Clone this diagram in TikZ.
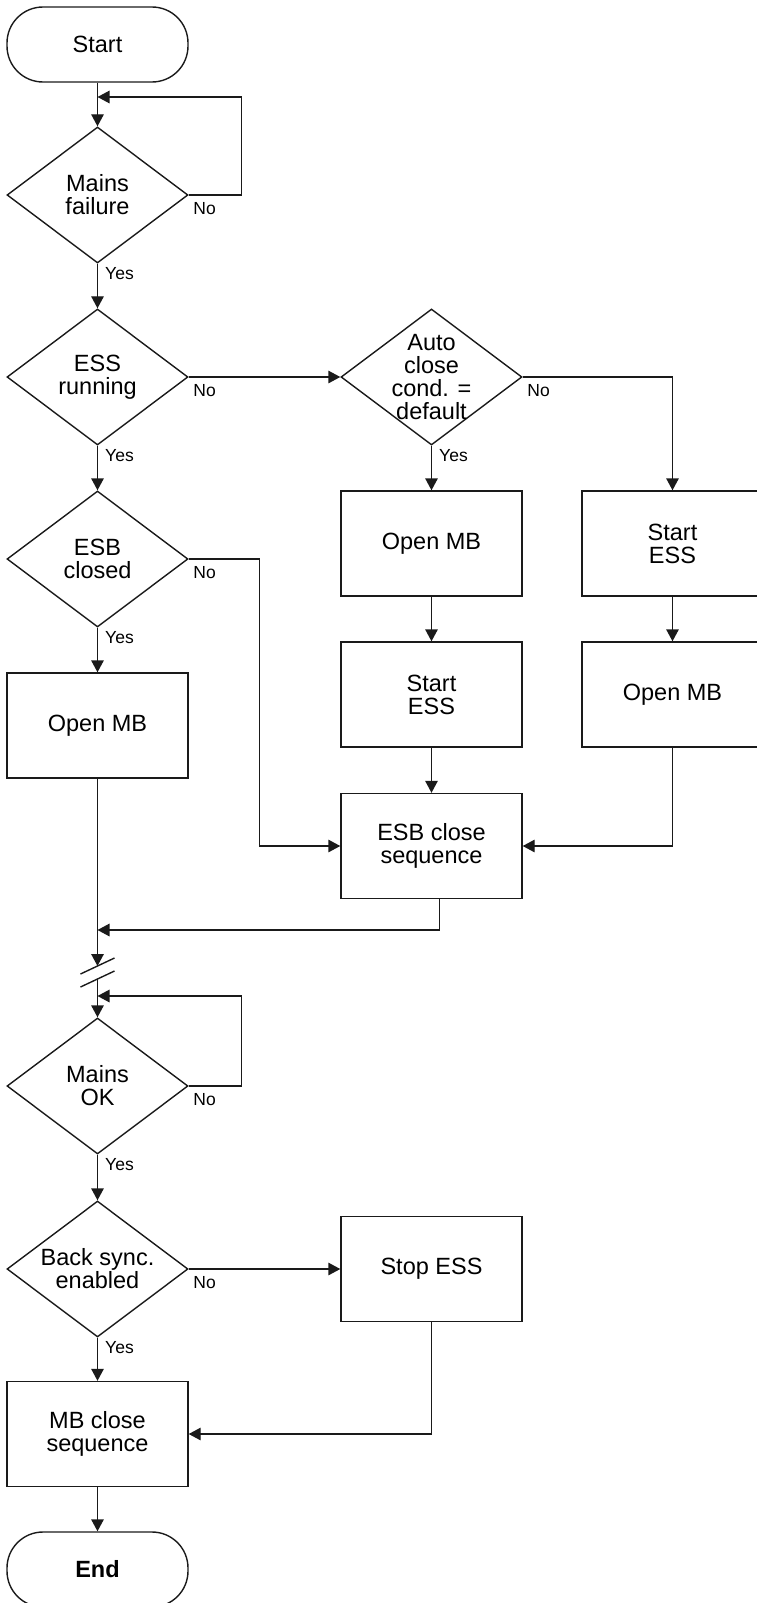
\documentclass[tikz,border=0pt]{standalone}
\usepackage{fontspec}
\setmainfont{Liberation Sans}
\usepackage{tikz}
\usetikzlibrary{positioning,arrows.meta,calc,shapes.geometric}
\usepackage{xcolor}
\definecolor{linedark}{HTML}{1A1A1A}

\begin{document}
\begin{tikzpicture}[x=1pt, y=-1pt, >={Triangle[length=12pt,width=12.5pt]},
    line width=1.4pt, draw=linedark,
    every node/.style={font=\fontsize{23.5}{23}\selectfont, text=black},
    terminal/.style={draw, rounded corners=36pt, minimum width=181pt, minimum height=75pt, inner sep=0pt},
    decision/.style={draw, diamond, aspect=1.33, minimum width=181pt, minimum height=136pt, inner xsep=0pt, inner ysep=-20pt, align=center},
    process/.style={draw, minimum width=181pt, minimum height=105pt, inner sep=0pt, align=center},
    answer/.style={font=\fontsize{17.5}{18}\selectfont, inner sep=0pt}]
  \useasboundingbox (0,0) rectangle (756,1603);
  % nodes, main column
  \node[terminal] (start) at (97.5,44.5) {Start};
  \node[decision] (mf) at (97.5,195) {Mains\\failure};
  \node[decision] (essr) at (97.5,377) {ESS\\running};
  \node[decision] (esbc) at (97.5,559) {ESB\\closed};
  \node[process] (omb1) at (97.5,725.5) {Open MB};
  \node[decision] (mok) at (97.5,1086) {Mains\\OK};
  \node[decision] (bse) at (97.5,1269) {Back sync.\\enabled};
  \node[process] (mbc) at (97.5,1434) {MB close\\sequence};
  \node[terminal] (end) at (97.5,1569.5) {\bfseries End};
  % nodes, middle and right columns
  \node[decision] (acd) at (431.5,377) {Auto\\close\\cond. =\\default};
  \node[process] (omb2) at (431.5,543.5) {Open MB};
  \node[process] (sess1) at (431.5,694.5) {Start\\ESS};
  \node[process] (seq) at (431.5,846) {ESB close\\sequence};
  \node[process] (stop) at (431.5,1269) {Stop ESS};
  \node[process] (sess2) at (672.5,543.5) {Start\\ESS};
  \node[process] (omb3) at (672.5,694.5) {Open MB};
  % helper points
  \coordinate (mfin) at (97.5,97);
  \coordinate (merge) at (97.5,930);
  \coordinate (brkA) at (97.5,966);
  \coordinate (brkB) at (97.5,979);
  \coordinate (mokin) at (97.5,996);
  % connectors
  \draw[->] (start) -- (mf);
  \draw[->] (mf.east) -- ++(53,0) |- (mfin);
  \draw[->] (mf) -- (essr);
  \draw[->] (essr) -- (acd);
  \draw[->] (acd.east) -| (sess2);
  \draw[->] (acd) -- (omb2);
  \draw[->] (omb2) -- (sess1);
  \draw[->] (sess1) -- (seq);
  \draw[->] (sess2) -- (omb3);
  \draw[->] (omb3.south) |- (seq.east);
  \draw[->] (essr) -- (esbc);
  \draw[->] (esbc.east) -- ++(71,0) |- (seq.west);
  \draw[->] (esbc) -- (omb1);
  \draw[->] ($(seq.south)+(8,0)$) |- (merge);
  \draw[->] (omb1.south) -- (brkA);
  % break mark
  \draw ($(brkA)+(-17,8)$) -- ($(brkA)+(17,-8)$);
  \draw ($(brkB)+(-17,8)$) -- ($(brkB)+(17,-8)$);
  \draw[->] (brkB) -- (mok);
  \draw[->] (mok.east) -- ++(53,0) |- (mokin);
  \draw[->] (mok) -- (bse);
  \draw[->] (bse) -- (stop);
  \draw[->] (bse) -- (mbc);
  \draw[->] (stop.south) |- (mbc.east);
  \draw[->] (mbc) -- (end);
  % answers
  \node[answer, below right=7pt and 4pt of mf.east] (mfno) {No};
  \node[answer, below right=3pt and 7pt of mf.south] (mfyes) {Yes};
  \node[answer, below right=7pt and 4pt of essr.east] (essrno) {No};
  \node[answer, below right=3pt and 7pt of essr.south] (essryes) {Yes};
  \node[answer, below right=7pt and 4pt of acd.east] (acdno) {No};
  \node[answer, below right=3pt and 7pt of acd.south] (acdyes) {Yes};
  \node[answer, below right=7pt and 4pt of esbc.east] (esbcno) {No};
  \node[answer, below right=3pt and 7pt of esbc.south] (esbcyes) {Yes};
  \node[answer, below right=7pt and 4pt of mok.east] (mokno) {No};
  \node[answer, below right=3pt and 7pt of mok.south] (mokyes) {Yes};
  \node[answer, below right=7pt and 4pt of bse.east] (bseno) {No};
  \node[answer, below right=3pt and 7pt of bse.south] (bseyes) {Yes};
\end{tikzpicture}
\end{document}
